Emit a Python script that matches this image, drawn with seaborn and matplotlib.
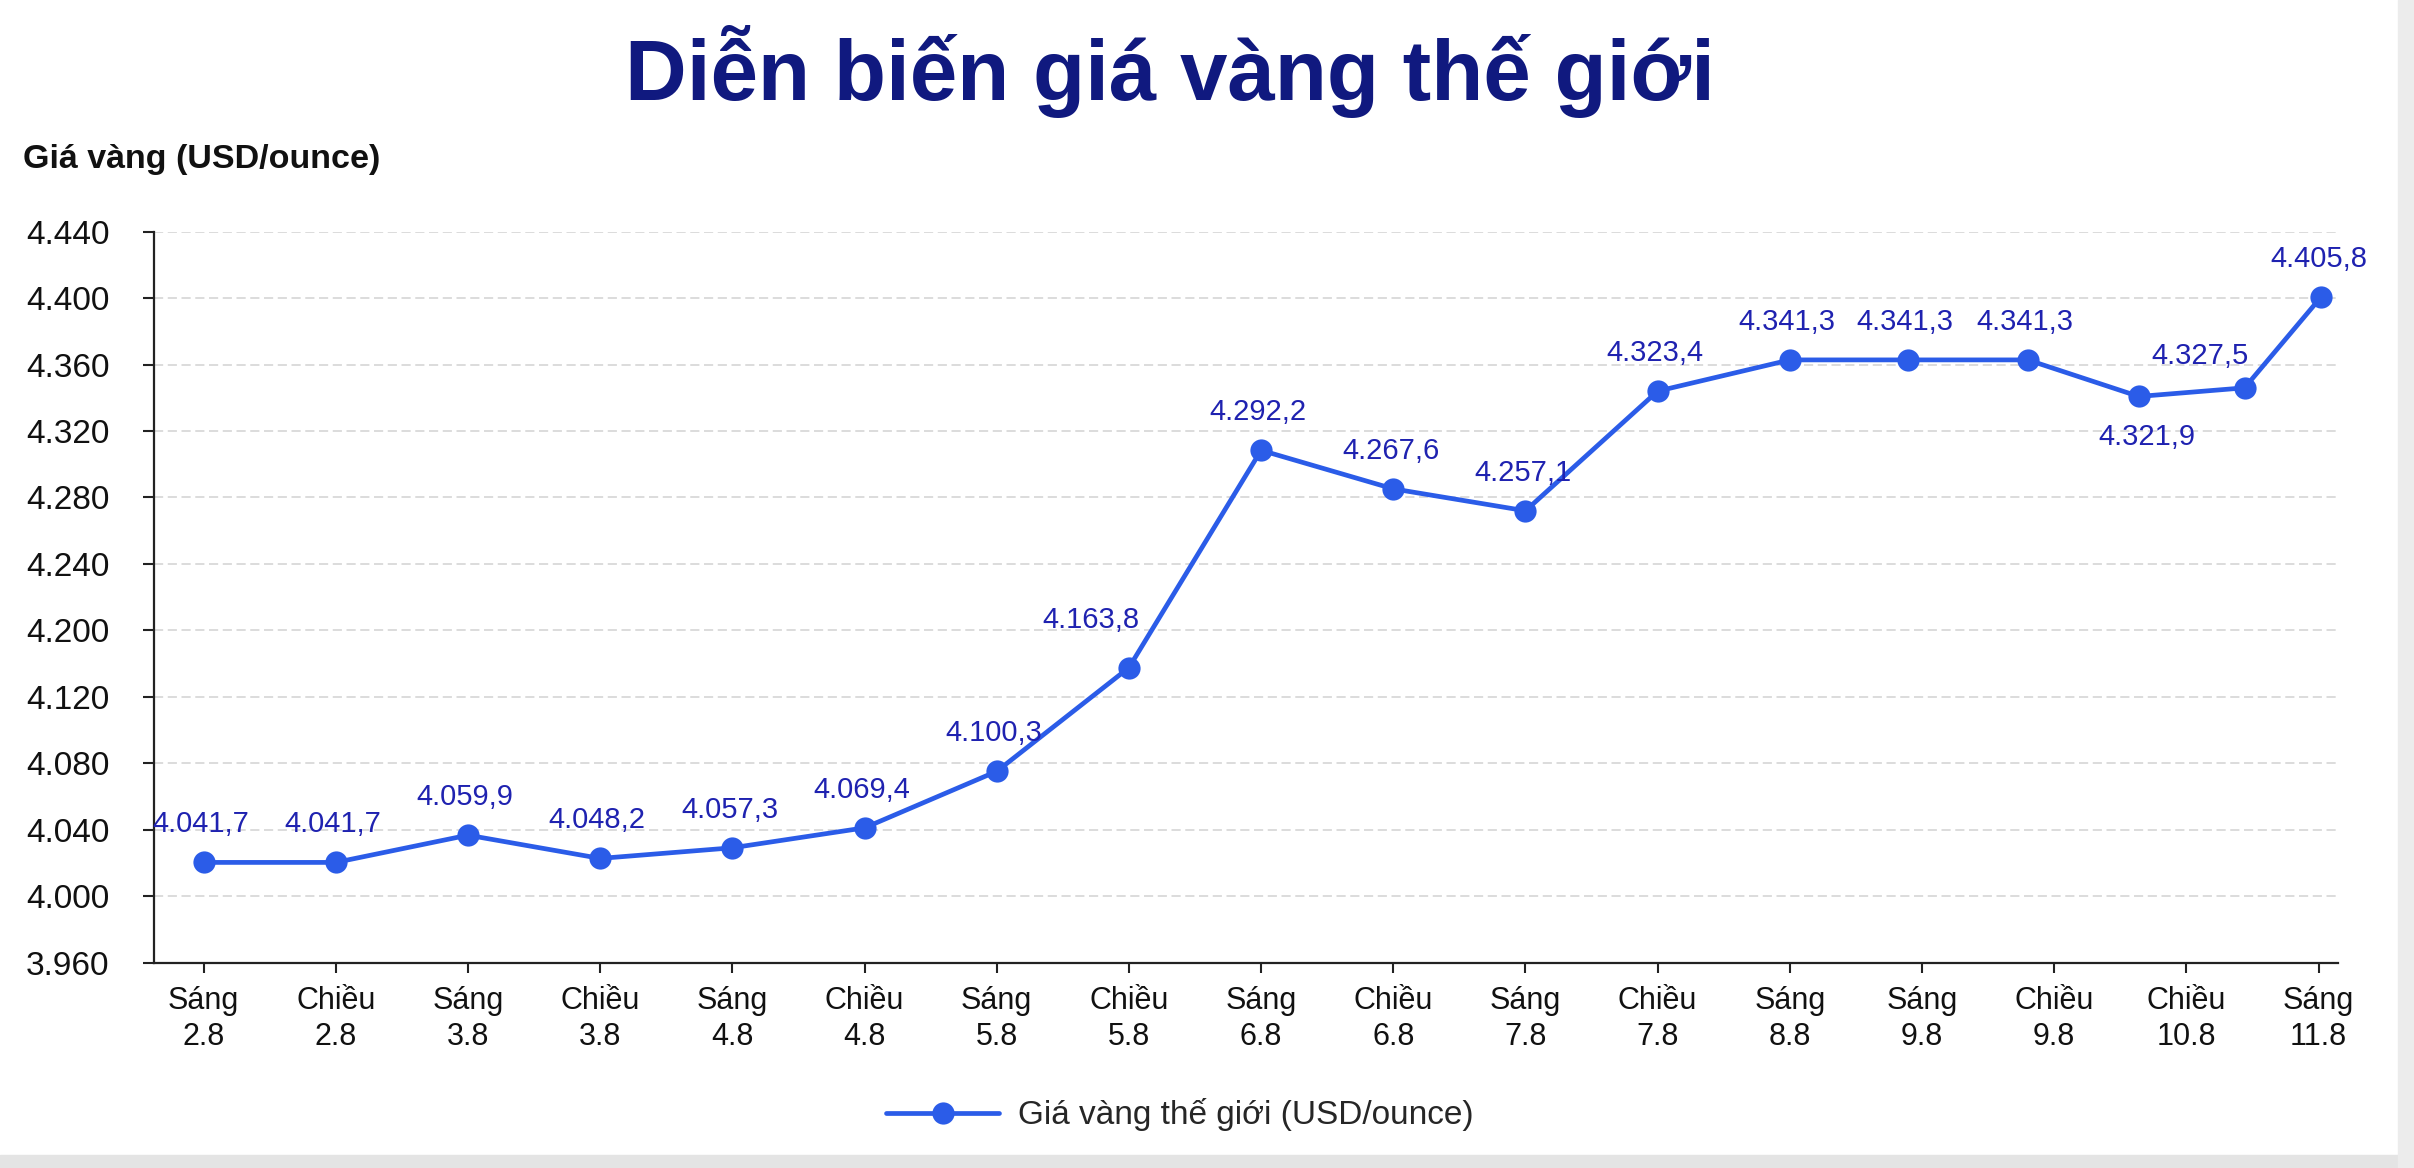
import numpy as np
import pandas as pd
import seaborn as sns
import matplotlib.pyplot as plt

# nhãn trục x (17 phiên có ghi trên hình)
phien = ["Sáng\n2.8", "Chiều\n2.8", "Sáng\n3.8", "Chiều\n3.8", "Sáng\n4.8", "Chiều\n4.8",
         "Sáng\n5.8", "Chiều\n5.8", "Sáng\n6.8", "Chiều\n6.8", "Sáng\n7.8", "Chiều\n7.8",
         "Sáng\n8.8", "Sáng\n9.8", "Chiều\n9.8", "Chiều\n10.8", "Sáng\n11.8"]

# 18 điểm trên hình, nhãn số liệu in cạnh từng điểm
nhan_gia = ["4.041,7", "4.041,7", "4.059,9", "4.048,2", "4.057,3", "4.069,4", "4.100,3",
            "4.163,8", "4.292,2", "4.267,6", "4.257,1", "4.323,4", "4.341,3", "4.341,3",
            "4.341,3", "4.321,9", "4.327,5", "4.405,8"]

# vị trí ngang của điểm, tính theo ô nhãn trục x (5 điểm cuối dồn lại như trên hình)
x_diem = [0, 1, 2, 3, 4, 5, 6, 7, 8, 9, 10, 11, 12, 12.89, 13.8, 14.64, 15.44, 16.02]

# độ cao điểm, theo thang của trục (mỗi vạch lưới = 40)
muc_ve = [4020.4, 4020.4, 4036.8, 4022.8, 4029.2, 4041.2, 4075.2, 4137.6, 4268.4,
          4245.2, 4232.0, 4304.0, 4322.8, 4322.8, 4322.8, 4300.8, 4306.0, 4360.8]

# nhãn trục y như trên hình (không có 4.160)
nhan_truc_y = ["3.960", "4.000", "4.040", "4.080", "4.120", "4.200", "4.240",
               "4.280", "4.320", "4.360", "4.400", "4.440"]

ten_chuoi = "Giá vàng thế giới (USD/ounce)"
tieu_de = "Diễn biến giá vàng thế giới"
don_vi = "Giá vàng (USD/ounce)"

bang = pd.DataFrame({"x": x_diem, "gia": muc_ve, "nhan": nhan_gia})

sns.set_theme(style="white")
plt.rcParams["font.family"] = ["Liberation Sans", "DejaVu Sans"]

MAU_DUONG = "#2b5ce8"
MAU_NHAN = "#1f22b0"
MAU_TIEU_DE = "#10197f"

fig = plt.figure(figsize=(24.14, 11.68), dpi=100)
ax = fig.add_axes([0.0638, 0.1757, 0.9049, 0.6260])

sns.lineplot(data=bang, x="x", y="gia", ax=ax, color=MAU_DUONG, linewidth=3.4,
             marker="o", markersize=16, markeredgewidth=0, label=ten_chuoi,
             sort=False, zorder=3)

ax.set_xlim(-0.375, len(phien) - 1 + 0.15)
ax.set_ylim(3960, 4400)
ax.set_xticks(np.arange(len(phien)))
ax.set_xticklabels(phien, fontsize=22, linespacing=1.25, color="#111111")
ax.set_yticks([3960 + 40 * k for k in range(len(nhan_truc_y))])
ax.set_yticklabels(nhan_truc_y, fontsize=24, color="#111111")
ax.set_xlabel("")
ax.set_ylabel("")

ax.tick_params(axis="x", length=7, width=1.5, pad=10, color="#222222", bottom=True)
ax.tick_params(axis="y", length=8, width=1.5, pad=24, color="#222222", left=True)
ax.yaxis.grid(True, color="#d2d2d2", linestyle=(0, (6, 3)), linewidth=1.1)
ax.xaxis.grid(False)
for s in ["top", "right"]:
    ax.spines[s].set_visible(False)
for s in ["left", "bottom"]:
    ax.spines[s].set_color("#222222")
    ax.spines[s].set_linewidth(1.6)

# nhãn số liệu: phần lớn nằm trên điểm, vài nhãn lệch như trên hình
lech = {7: (-27, 34), 15: (6, -29), 16: (-32, 23)}
for i, dong in bang.iterrows():
    dx, dy = lech.get(i, (-2, 27.4))
    ax.annotate(dong["nhan"], (dong["x"], dong["gia"]), xytext=(dx, dy),
                textcoords="offset points", ha="center", va="center",
                fontsize=21, color=MAU_NHAN)

h, l = ax.get_legend_handles_labels()
ax.get_legend().remove()
fig.legend(h, l, loc="center", bbox_to_anchor=(0.4888, 0.0454), frameon=False,
           fontsize=24, handlelength=3.4, handletextpad=0.57)

fig.text(0.4847, 0.9144, tieu_de, ha="center", va="baseline", fontsize=61.5,
         fontweight="bold", color=MAU_TIEU_DE)
fig.text(0.0095, 0.8562, don_vi, ha="left", va="baseline", fontsize=24.5,
         fontweight="bold", color="#111111")

# viền xám nhạt ở mép phải và mép dưới của ảnh gốc
fig.patches.append(plt.Rectangle((0, 0), 1, 0.011, transform=fig.transFigure,
                                 color="#e4e4e4", zorder=0))
fig.patches.append(plt.Rectangle((0.9934, 0), 0.0066, 1, transform=fig.transFigure,
                                 color="#ececec", zorder=0))

fig.savefig("out.png", dpi=100)
